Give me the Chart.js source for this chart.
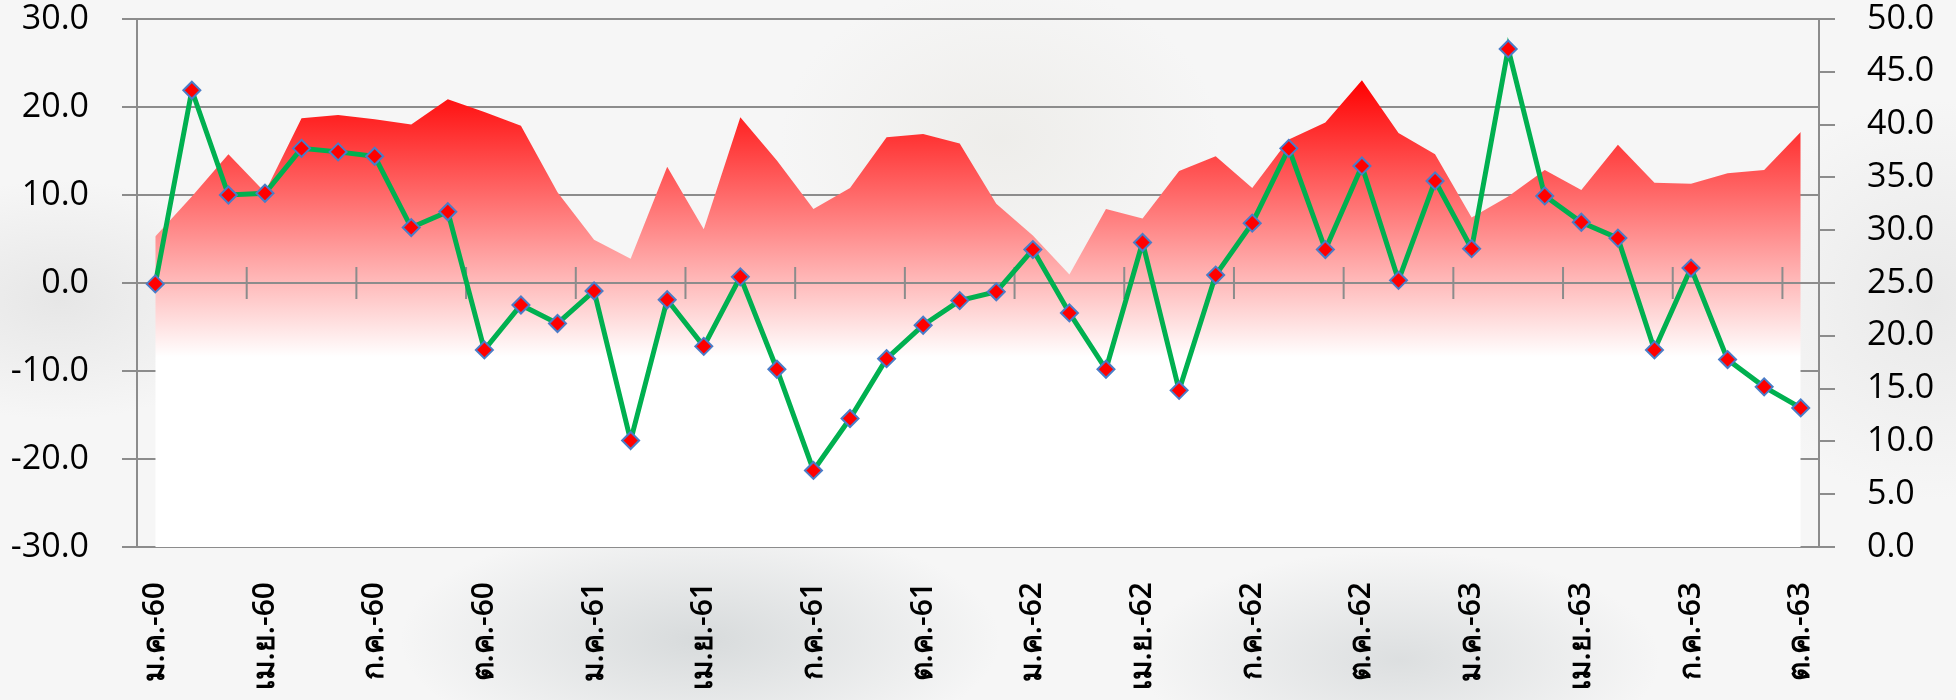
<!DOCTYPE html>
<html>
<head>
<meta charset="utf-8">
<script src="https://cdn.jsdelivr.net/npm/chart.js@4.4.0/dist/chart.umd.min.js"></script>
<style>
  html, body { margin: 0; padding: 0; }
  body {
    width: 1956px; height: 700px; overflow: hidden;
    background:
      radial-gradient(ellipse 300px 120px at 700px 640px, rgba(190,196,198,0.55), transparent),
      radial-gradient(ellipse 260px 110px at 1400px 660px, rgba(195,200,202,0.5), transparent),
      radial-gradient(ellipse 200px 120px at 60px 300px, rgba(215,215,215,0.5), transparent),
      radial-gradient(ellipse 220px 160px at 1000px 140px, rgba(228,226,220,0.45), transparent),
      radial-gradient(ellipse 200px 200px at 1930px 300px, rgba(220,220,220,0.5), transparent),
      #f6f6f6;
  }
  #wrap { position: relative; width: 1956px; height: 700px; }
</style>
</head>
<body>
<div id="wrap"><canvas id="chart"></canvas></div>
<script>
const labels = [
  'ม.ค.-60','ก.พ.-60','มี.ค.-60','เม.ย.-60','พ.ค.-60','มิ.ย.-60','ก.ค.-60','ส.ค.-60','ก.ย.-60','ต.ค.-60','พ.ย.-60','ธ.ค.-60',
  'ม.ค.-61','ก.พ.-61','มี.ค.-61','เม.ย.-61','พ.ค.-61','มิ.ย.-61','ก.ค.-61','ส.ค.-61','ก.ย.-61','ต.ค.-61','พ.ย.-61','ธ.ค.-61',
  'ม.ค.-62','ก.พ.-62','มี.ค.-62','เม.ย.-62','พ.ค.-62','มิ.ย.-62','ก.ค.-62','ส.ค.-62','ก.ย.-62','ต.ค.-62','พ.ย.-62','ธ.ค.-62',
  'ม.ค.-63','ก.พ.-63','มี.ค.-63','เม.ย.-63','พ.ค.-63','มิ.ย.-63','ก.ค.-63','ส.ค.-63','ก.ย.-63','ต.ค.-63'
];

// right axis (area)
const levelValues = [
  29.4, 33.2, 37.2, 33.6, 40.6, 40.9, 40.5, 40.0, 42.4, 41.2, 39.9, 33.6,
  29.1, 27.3, 36.0, 30.1, 40.7, 36.6, 32.0, 34.0, 38.8, 39.1, 38.2, 32.5,
  29.5, 25.8, 32.0, 31.1, 35.6, 37.0, 34.0, 38.6, 40.2, 44.2, 39.2, 37.2,
  31.2, 33.2, 35.7, 33.8, 38.1, 34.5, 34.4, 35.4, 35.7, 39.3
];

// left axis (green line, %)
const growthValues = [
  -0.1, 21.9, 10.0, 10.2, 15.3, 14.9, 14.4, 6.3, 8.1, -7.6, -2.5, -4.6,
  -0.9, -17.9, -1.9, -7.2, 0.7, -9.8, -21.3, -15.4, -8.6, -4.8, -2.0, -1.0,
  3.8, -3.4, -9.8, 4.6, -12.2, 0.9, 6.8, 15.3, 3.8, 13.3, 0.3, 11.6,
  3.9, 26.6, 9.9, 6.9, 5.1, -7.6, 1.7, -8.7, -11.8, -14.2
];

const leftTicks = { min: -30, max: 30, step: 10 };
const rightTicks = { min: 0, max: 50, step: 5 };

const gridColor = '#8c8c8c';
const fontFamily = "'Open Sans', 'Noto Sans', sans-serif";

// x axis line at 0 with crossing tick marks, drawn over the area
const zeroAxisLine = {
  id: 'zeroAxisLine',
  afterDatasetDraw(chart, args) {
    if (args.index !== 1) return;
    const { ctx, chartArea, scales } = chart;
    const xs = scales.x;
    const y0 = scales.y.getPixelForValue(0);
    const half = (xs.getPixelForValue(1) - xs.getPixelForValue(0)) / 2;
    ctx.save();
    ctx.strokeStyle = gridColor;
    ctx.lineWidth = 2;
    ctx.beginPath();
    ctx.moveTo(chartArea.left, y0);
    ctx.lineTo(chartArea.right, y0);
    for (let i = 0; i < labels.length; i += 3) {
      const px = xs.getPixelForValue(i) - half;
      ctx.moveTo(px, y0 - 16);
      ctx.lineTo(px, y0 + 16);
    }
    ctx.stroke();
    ctx.restore();
  }
};

function fixY(s) {
  s.width = 137;
  s.paddingTop = 0;
  s.paddingBottom = 0;
}

const ctx = document.getElementById('chart').getContext('2d');
new Chart(ctx, {
  type: 'line',
  data: {
    labels: labels,
    datasets: [
      {
        label: 'growth',
        data: growthValues,
        yAxisID: 'y',
        borderColor: '#00b050',
        borderWidth: 5,
        tension: 0,
        fill: false,
        pointStyle: 'rectRot',
        pointRadius: 8.5,
        pointBackgroundColor: '#ff0000',
        pointBorderColor: '#4a7cc8',
        pointBorderWidth: 2
      },
      {
        label: 'level',
        data: levelValues,
        yAxisID: 'y1',
        borderWidth: 0,
        pointRadius: 0,
        tension: 0,
        fill: 'origin',
        backgroundColor(c) {
          const { chart } = c;
          if (!chart.chartArea) return 'rgba(255,0,0,0.5)';
          const y1 = chart.scales.y1;
          const top = y1.getPixelForValue(Math.max(...levelValues));
          const bottom = y1.getPixelForValue(18);
          const g = chart.ctx.createLinearGradient(0, top, 0, bottom);
          g.addColorStop(0, '#ff0000');
          g.addColorStop(1, '#ffffff');
          return g;
        }
      }
    ]
  },
  options: {
    responsive: true,
    maintainAspectRatio: false,
    animation: false,
    layout: { padding: { top: 19 } },
    plugins: { legend: { display: false }, tooltip: { enabled: false } },
    scales: {
      x: {
        offset: true,
        grid: { display: false, drawTicks: false },
        border: { display: false },
        ticks: {
          autoSkip: false,
          maxRotation: 90,
          minRotation: 90,
          padding: 35,
          color: '#000',
          font: { family: fontFamily, size: 30, weight: '600' },
          callback: (v, i) => (i % 3 === 0 ? labels[i] : '')
        },
        afterFit: s => { s.height = 153; }
      },
      y: {
        position: 'left',
        min: leftTicks.min,
        max: leftTicks.max,
        grid: { color: gridColor, lineWidth: 2, tickLength: 15 },
        border: { color: gridColor, width: 2 },
        ticks: {
          stepSize: leftTicks.step,
          padding: 33,
          color: '#000',
          font: { family: fontFamily, size: 34 },
          callback: v => v.toFixed(1)
        },
        afterFit: fixY
      },
      y1: {
        position: 'right',
        min: rightTicks.min,
        max: rightTicks.max,
        grid: { drawOnChartArea: false, color: gridColor, lineWidth: 2, tickLength: 16 },
        border: { color: gridColor, width: 2 },
        ticks: {
          stepSize: rightTicks.step,
          padding: 32,
          color: '#000',
          font: { family: fontFamily, size: 34 },
          callback: v => v.toFixed(1)
        },
        afterFit: fixY
      }
    }
  },
  plugins: [zeroAxisLine]
});
</script>
</body>
</html>
